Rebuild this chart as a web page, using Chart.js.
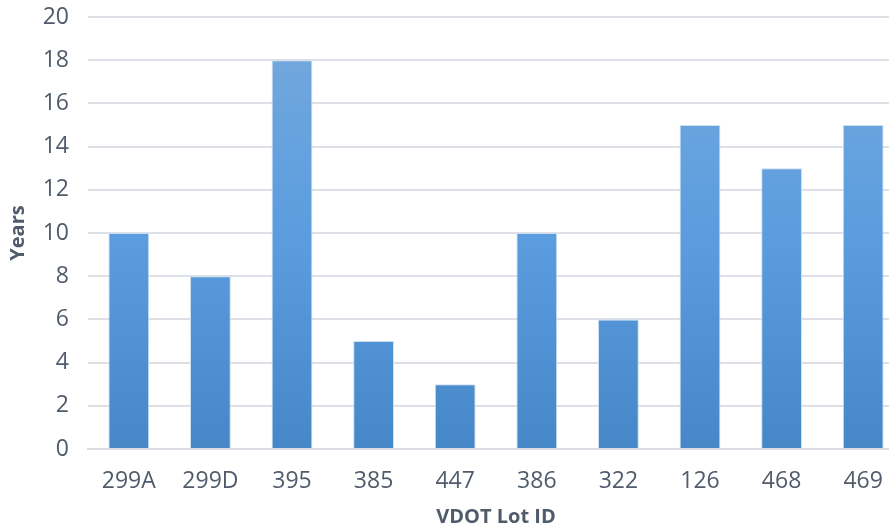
<!DOCTYPE html>
<html>
<head>
<meta charset="utf-8">
<script src="https://cdn.jsdelivr.net/npm/chart.js@4.4.1/dist/chart.umd.min.js"></script>
<style>
  html, body { margin: 0; padding: 0; background: #fff; overflow: hidden; }
  #wrap { width: 889px; height: 529px; overflow: hidden; }
  #inner { width: 904px; height: 529px; }
</style>
</head>
<body>
<div id="wrap"><div id="inner"><canvas id="chart"></canvas></div></div>
<script>
// Lot IDs along the x axis
const lotIds = ["299A", "299D", "395", "385", "447", "386", "322", "126", "468", "469"];
// Years for each lot
const years = [10, 8, 18, 5, 3, 10, 6, 15, 13, 15];

const textColor = "#505b6b";

// vertical gradient like the Excel bar fill
function barGradient(context) {
  const chart = context.chart;
  const area = chart.chartArea;
  if (!area) return "#5b9bd5";
  const meta = context.element;
  const top = meta && meta.y !== undefined ? meta.y : area.top;
  const bottom = area.bottom;
  const g = chart.ctx.createLinearGradient(0, top, 0, bottom);
  g.addColorStop(0, "#76a9dc");
  g.addColorStop(0.5, "#5b9ddf");
  g.addColorStop(1, "#4587c7");
  return g;
}

const ctx = document.getElementById("chart").getContext("2d");
const myChart = new Chart(ctx, {
  type: "bar",
  data: {
    labels: lotIds,
    datasets: [
      {
        label: "Years",
        data: years,
        backgroundColor: barGradient,
        borderColor: "rgba(200, 220, 240, 0.9)",
        borderWidth: 1,
        barPercentage: 0.5,
        categoryPercentage: 1,
      },
    ],
  },
  options: {
    responsive: true,
    maintainAspectRatio: false,
    animation: false,
    layout: { padding: { top: 0, right: 0, left: 0, bottom: 0 } },
    plugins: {
      legend: { display: false },
      tooltip: { enabled: false },
    },
    scales: {
      x: {
        grid: { display: false, drawTicks: false },
        border: { color: "#d9dde3", width: 2 },
        ticks: { color: textColor, font: { family: "Open Sans", size: 23 }, padding: 19 },
        title: {
          display: true,
          text: "VDOT Lot ID",
          color: textColor,
          font: { family: "Open Sans", size: 20, weight: "bold" },
          padding: { top: 0, bottom: 0 },
        },
        afterFit: (scale) => { scale.height = 80; },
      },
      y: {
        min: 0,
        max: 20,
        ticks: { stepSize: 2, color: textColor, font: { family: "Open Sans", size: 23 }, padding: 19 },
        grid: { color: "#dde1e7", lineWidth: 2, drawTicks: false },
        border: { display: false },
        title: {
          display: true,
          text: "Years",
          color: textColor,
          font: { family: "Open Sans", size: 20, weight: "bold" },
          padding: { top: 6, bottom: 0 },
        },
        afterFit: (scale) => { scale.width = 88; scale.paddingTop = 17; },
      },
    },
  },
});
</script>
</body>
</html>
